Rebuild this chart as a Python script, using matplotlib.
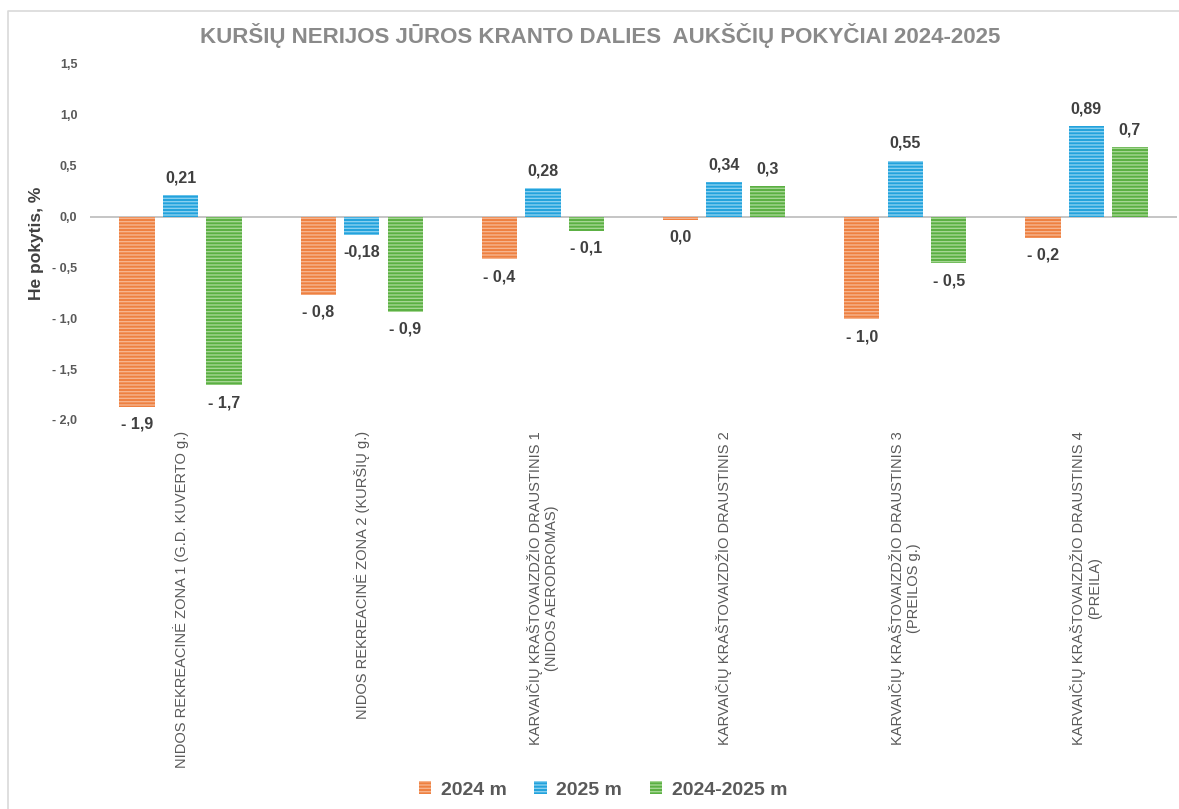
import matplotlib.pyplot as plt
import numpy as np
from matplotlib.lines import Line2D

# -----------------------------
# Duomenys
# -----------------------------
CATEGORIES = [
    "NIDOS REKREACINĖ ZONA 1 (G.D. KUVERTO g.)",
    "NIDOS REKREACINĖ ZONA 2 (KURŠIŲ g.)",
    "KARVAIČIŲ KRAŠTOVAIZDŽIO DRAUSTINIS 1\n(NIDOS AERODROMAS)",
    "KARVAIČIŲ KRAŠTOVAIZDŽIO DRAUSTINIS 2",
    "KARVAIČIŲ KRAŠTOVAIZDŽIO DRAUSTINIS 3\n(PREILOS g.)",
    "KARVAIČIŲ KRAŠTOVAIZDŽIO DRAUSTINIS 4\n(PREILA)",
]
VALS_2024 = [-1.87, -0.77, -0.42, -0.03, -1.01, -0.21]
VALS_2025 = [0.21, -0.18, 0.28, 0.34, 0.55, 0.89]
VALS_DIFF = [-1.66, -0.94, -0.14, 0.30, -0.46, 0.68]
SERIES_NAMES = ["2024 m", "2025 m", "2024-2025 m"]
Y_TICKS = [-2.0, -1.5, -1.0, -0.5, 0.0, 0.5, 1.0, 1.5]

TITLE = "KURŠIŲ NERIJOS JŪROS KRANTO DALIES  AUKŠČIŲ POKYČIAI 2024-2025"
OUTPUT_PATH = "out.png"


def fmt(v, dec, sep):
    s = f"{abs(v):.{dec}f}".replace(".", ",")
    if v < 0 and float(s.replace(",", ".")) != 0:
        return "-" + sep + s
    return s


def main():
    plt.rcParams["font.family"] = ["Liberation Sans", "DejaVu Sans"]
    plt.rcParams["hatch.linewidth"] = 1.0
    fig = plt.figure(figsize=(11.79, 8.09), dpi=100)
    W, H = 1179, 809
    ax = fig.add_axes([90 / W, 1 - 420 / H, (1177 - 90) / W, (420 - 64) / H])

    # ramelis (kairė ir viršus)
    fig.lines.append(Line2D([8 / W, 8 / W, 1.0], [0.0, 1 - 11 / H, 1 - 11 / H],
                            transform=fig.transFigure, color="#d9d9d9",
                            linewidth=1.2))

    x = np.arange(len(CATEGORIES))
    width = 0.195
    offset = 0.24
    series = [
        (VALS_2024, "#EE8040", "#F6B48E", 1, " "),
        (VALS_2025, "#22A2DC", "#88D0F0", 2, ""),
        (VALS_DIFF, "#5AAF42", "#A5D693", 1, " "),
    ]
    handles = []
    for i, (vals, face, light, dec, sep) in enumerate(series):
        pos = x + (i - 1) * offset
        bars = ax.bar(pos, vals, width, color=face, edgecolor=light,
                      linewidth=0, hatch="-----", label=SERIES_NAMES[i])
        handles.append(bars)
        for xp, v in zip(pos, vals):
            dy = 0.17 if v >= 0 else -0.17
            ax.text(xp, v + dy, fmt(v, dec, sep), ha="center", va="center",
                    fontsize=11.5, fontweight="bold", color="#404040")

    ax.axhline(0, color="#c0c0c0", linewidth=1.3, zorder=0.5)
    ax.set_xlim(-0.5, len(CATEGORIES) - 0.5)
    ax.set_ylim(-2.0, 1.5)
    ax.set_yticks(Y_TICKS)
    ax.set_yticklabels([fmt(t, 1, " ") for t in Y_TICKS],
                       fontsize=9, fontweight="bold", color="#595959")
    ax.set_xticks(x)
    ax.set_xticklabels(CATEGORIES, rotation=90, ha="center", va="top",
                       multialignment="center", fontsize=10.5,
                       color="#595959")
    ax.tick_params(axis="both", length=0)
    ax.tick_params(axis="y", pad=9)
    ax.tick_params(axis="x", pad=8)
    for sp in ax.spines.values():
        sp.set_visible(False)

    fig.text(37 / W, 1 - 243 / H, "He pokytis, %", rotation=90,
             ha="center", va="center", fontsize=12.5, fontweight="bold",
             color="#404040")

    fig.text(600 / W, 1 - 36 / H, TITLE, ha="center", va="center",
             fontsize=16, fontweight="bold", color="#8a8a8a")

    fig.legend(handles=handles, loc="center",
               bbox_to_anchor=(603 / W, 1 - 790 / H), ncol=3, frameon=False,
               prop={"size": 14, "weight": "bold"}, labelcolor="#595959",
               handlelength=0.65, handleheight=0.65, handletextpad=0.5,
               columnspacing=1.4)

    plt.savefig(OUTPUT_PATH, dpi=100)


if __name__ == "__main__":
    main()
